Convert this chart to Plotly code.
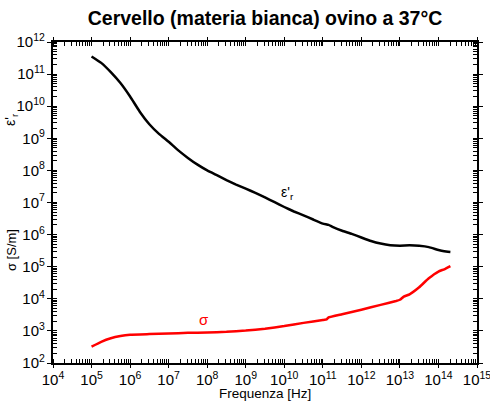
import plotly.graph_objects as go

# Permittivity (epsilon'_r) curve
eps_freq = [1.0e5, 1.78e5, 3.16e5, 5.62e5, 1.0e6, 1.78e6, 3.16e6, 5.62e6,
            1.0e7, 1.78e7, 3.16e7, 5.62e7, 1.0e8, 1.78e8, 3.16e8, 5.62e8,
            1.0e9, 1.78e9, 3.16e9, 5.62e9, 1.0e10, 1.78e10, 3.16e10, 5.62e10,
            1.0e11, 1.41e11, 1.78e11, 3.16e11, 5.62e11, 1.0e12, 1.78e12, 3.16e12,
            5.62e12, 1.0e13, 1.78e13, 3.16e13, 5.62e13, 1.0e14, 1.41e14, 2.04e14]
eps_val = [3.55e11, 2.24e11, 1.15e11, 5.25e10, 2.0e10, 6.76e9, 2.75e9, 1.38e9,
           7.8e8, 4.2e8, 2.45e8, 1.51e8, 1.0e8, 7.08e7, 5.01e7, 3.63e7,
           2.69e7, 2.0e7, 1.45e7, 1.02e7, 7.24e6, 5.25e6, 3.98e6, 2.95e6,
           2.19e6, 2.0e6, 1.74e6, 1.32e6, 1.05e6, 8.13e5, 6.31e5, 5.25e5,
           4.68e5, 4.52e5, 4.62e5, 4.47e5, 4.07e5, 3.31e5, 3.02e5, 2.88e5]

# Conductivity (sigma) curve
sig_freq = [1.0e5, 1.78e5, 3.16e5, 5.62e5, 1.0e6, 3.16e6, 1.0e7, 3.16e7,
            1.0e8, 3.16e8, 1.0e9, 3.16e9, 1.0e10, 3.16e10, 1.0e11, 1.26e11,
            1.41e11, 3.16e11, 1.0e12, 3.16e12, 7.94e12, 1.0e13, 1.26e13, 1.78e13,
            3.16e13, 5.62e13, 1.0e14, 1.41e14, 2.04e14]
sig_val = [324, 457, 589, 692, 759, 794, 832, 871,
           891, 933, 1023, 1175, 1413, 1778, 2188, 2291,
           2630, 3311, 4571, 6457, 8511, 9333, 11750, 13800,
           22900, 43650, 70790, 83180, 104700]

title_text = "Cervello (materia bianca) ovino a 37°C"
x_title = "Frequenza [Hz]"

fig = go.Figure()
fig.add_trace(go.Scatter(x=eps_freq, y=eps_val, mode="lines",
                         line=dict(color="black", width=2.5, shape="spline", smoothing=0.3),
                         showlegend=False))
fig.add_trace(go.Scatter(x=sig_freq, y=sig_val, mode="lines",
                         line=dict(color="#ff0000", width=2.5, shape="spline", smoothing=0.3),
                         showlegend=False))

font_family = "Liberation Sans, Arial, sans-serif"

axis_common = dict(
    type="log", dtick=1, exponentformat="power", showgrid=False, zeroline=False,
    showline=True, linecolor="black", linewidth=1.5, mirror="allticks",
    ticks="outside", tickwidth=1, tickcolor="black",
    minor=dict(ticks="inside", ticklen=4, tickwidth=1, tickcolor="black", showgrid=False),
    tickfont=dict(family=font_family, size=12, color="black"),
    automargin=False, ticklabeloverflow="allow",
)

fig.update_xaxes(range=[4, 15], ticklen=3, **axis_common)
fig.update_yaxes(range=[2, 12], ticklen=4, **axis_common)

fig.add_annotation(x=0.5, y=-0.1246, xref="paper", yref="paper", text=x_title,
                   showarrow=False, xanchor="center", yanchor="bottom",
                   font=dict(family=font_family, size=13.5, color="black"))
fig.add_annotation(x=10.08, y=7.30, xref="x", yref="y", text="ε'<sub>r</sub>",
                   showarrow=False, font=dict(family=font_family, size=14, color="black"))
fig.add_annotation(x=7.91, y=3.34, xref="x", yref="y", text="σ",
                   showarrow=False, font=dict(family=font_family, size=15, color="#ff0000"))
fig.add_annotation(x=-0.099, y=0.757, xref="paper", yref="paper", text="ε'<sub>r</sub>",
                   textangle=-90, showarrow=False, xanchor="center", yanchor="middle",
                   font=dict(family=font_family, size=14, color="black"))
fig.add_annotation(x=-0.099, y=0.352, xref="paper", yref="paper", text="σ [S/m]",
                   textangle=-90, showarrow=False, xanchor="center", yanchor="middle",
                   font=dict(family=font_family, size=13, color="black"))

fig.update_layout(
    width=490, height=403,
    margin=dict(l=53, r=13, t=42, b=40),
    paper_bgcolor="white", plot_bgcolor="white",
    title=dict(text="<b>" + title_text + "</b>", x=0.5, xref="paper", xanchor="center",
               y=1 - 18 / 403, yanchor="middle",
               font=dict(family=font_family, size=19.5, color="black")),
)

fig.write_html("out.html")
